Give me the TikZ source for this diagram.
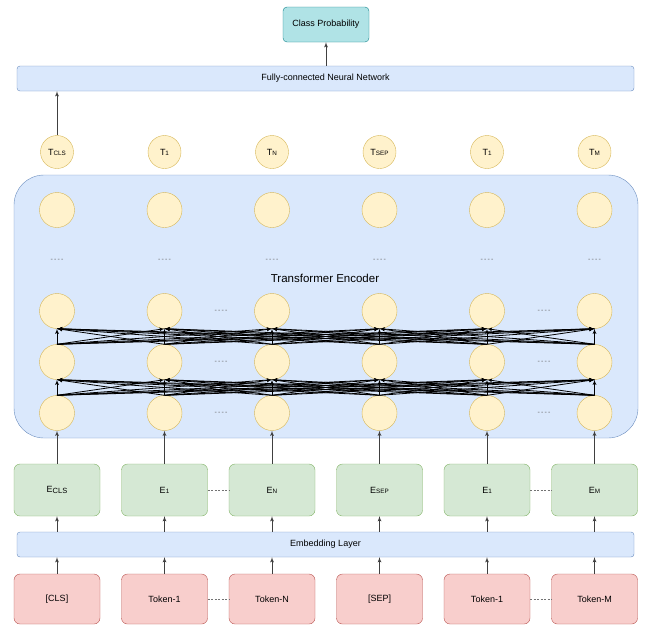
\documentclass[tikz,border=0pt]{standalone}
\usepackage{fontspec}
\setmainfont{Liberation Sans}
\usepackage{xcolor}
\usetikzlibrary{shapes,arrows}
\definecolor{neufill}{HTML}{FFF2CC}\definecolor{neudraw}{HTML}{D6B656}
\definecolor{bluefill}{HTML}{DAE8FC}\definecolor{bluedraw}{HTML}{6C8EBF}
\definecolor{grnfill}{HTML}{D5E8D4}\definecolor{grndraw}{HTML}{82B366}
\definecolor{redfill}{HTML}{F8CECC}\definecolor{reddraw}{HTML}{B85450}
\definecolor{tealfill}{HTML}{B0E3E6}\definecolor{tealdraw}{HTML}{0E8088}
\tikzset{every node/.style={inner sep=1pt,font=\fontsize{9}{10}\selectfont}, >=latex',
  neuron/.style={draw=neudraw,fill=neufill,circle,minimum size=35},
  layerbox/.style={draw=bluedraw,fill=bluefill,rounded corners=3,minimum width=617,minimum height=25},
  embbox/.style={draw=grndraw,fill=grnfill,rounded corners=6,minimum width=86,minimum height=52},
  tokbox/.style={draw=reddraw,fill=redfill,rounded corners=6,minimum width=86,minimum height=50},
  dots/.style={text=black!60,font=\fontsize{7}{7}\selectfont},
  gap/.style={black!55,dash pattern=on 2pt off 1.5pt}}
\def\cn#1#2{\draw[->,black!75,line width=.8pt] (#1) to (#2);}
\newcommand{\nbox}[4][]{\node[#1] (#2) at (#3) {#4};}
\newcommand{\sml}[1]{{\fontsize{6.3}{6}\selectfont #1}}
\newcommand{\sbs}[1]{\raisebox{-1.8pt}{\fontsize{7.5}{7}\selectfont #1}}
\newcommand{\dsh}{-\kern1.2pt-\kern1.2pt-\kern1.2pt-}

\begin{document}
\begin{tikzpicture}[x=1pt,y=-1pt]
    \useasboundingbox (0,0) rectangle (645,625);

    \nbox[draw=tealdraw,fill=tealfill,rounded corners=4,minimum width=86,minimum height=35]{cp}{326,24.5}{Class Probability}
    \nbox[layerbox]{fc}{325.5,78.5}{Fully-connected Neural Network}
    \cn{fc.north -| cp}{cp}

    \nbox[neuron,minimum size=33]{t1}{57,152}{T\sml{CLS}}
    \nbox[neuron,minimum size=33]{t2}{164.5,152}{T\sml{1}}
    \nbox[neuron,minimum size=33]{t3}{272,152}{T\sml{N}}
    \nbox[neuron,minimum size=33]{t4}{379.5,152}{T\sml{SEP}}
    \nbox[neuron,minimum size=33]{t5}{487,152}{T\sml{1}}
    \nbox[neuron,minimum size=33]{t6}{594.5,152}{T\sml{M}}
    \cn{t1}{t1 |- fc.south}

    % encoder
    \nbox[draw=bluedraw,fill=bluefill,rounded corners=30,minimum width=624,minimum height=263]{enc}{326,306.5}{}
    \nbox[font=\fontsize{11.5}{12}\selectfont]{encl}{325,278}{Transformer Encoder}
    \foreach \x [count=\i] in {57,164.5,272,379.5,487,594.5} {
        \nbox[neuron]{a\i}{\x,413}{}
        \nbox[neuron]{b\i}{\x,362}{}
        \nbox[neuron]{c\i}{\x,311}{}
        \nbox[neuron]{d\i}{\x,210}{}
        \nbox[dots]{dd\i}{\x,260}{\dsh}
    }
    \foreach \i in {1,...,6}
        \foreach \j in {1,...,6} {
            \draw[->,line width=.8pt] (a\i.north) -- (b\j.south);
            \draw[->,line width=.8pt] (b\i.north) -- (c\j.south);
        }
    \foreach \r/\y in {a/413,b/362,c/311} {
        \nbox[dots]{\r l}{221,\y}{\dsh}
        \nbox[dots]{\r r}{544,\y}{\dsh}
    }

    % embeddings
    \nbox[embbox]{e1}{57,490}{E\sbs{CLS}}
    \nbox[embbox]{e2}{164.5,490}{E\sml{1}}
    \nbox[embbox]{e3}{272,490}{E\sml{N}}
    \nbox[embbox]{e4}{379.5,490}{E\sml{SEP}}
    \nbox[embbox]{e5}{487,490}{E\sml{1}}
    \nbox[embbox]{e6}{594.5,490}{E\sml{M}}
    \draw[gap] (e2) -- (e3);
    \draw[gap] (e5) -- (e6);
    \nbox[layerbox]{emb}{325.5,544.5}{Embedding Layer}

    \nbox[tokbox]{k1}{57,599}{[CLS]}
    \nbox[tokbox]{k2}{164.5,599}{Token-1}
    \nbox[tokbox]{k3}{272,599}{Token-N}
    \nbox[tokbox]{k4}{379.5,599}{[SEP]}
    \nbox[tokbox]{k5}{487,599}{Token-1}
    \nbox[tokbox]{k6}{594.5,599}{Token-M}
    \draw[gap] (k2) -- (k3);
    \draw[gap] (k5) -- (k6);

    \foreach \i in {1,...,6} {
        \cn{e\i}{a\i}
        \cn{emb.north -| e\i}{e\i}
        \cn{k\i}{emb.south -| k\i}
    }
\end{tikzpicture}
\end{document}
